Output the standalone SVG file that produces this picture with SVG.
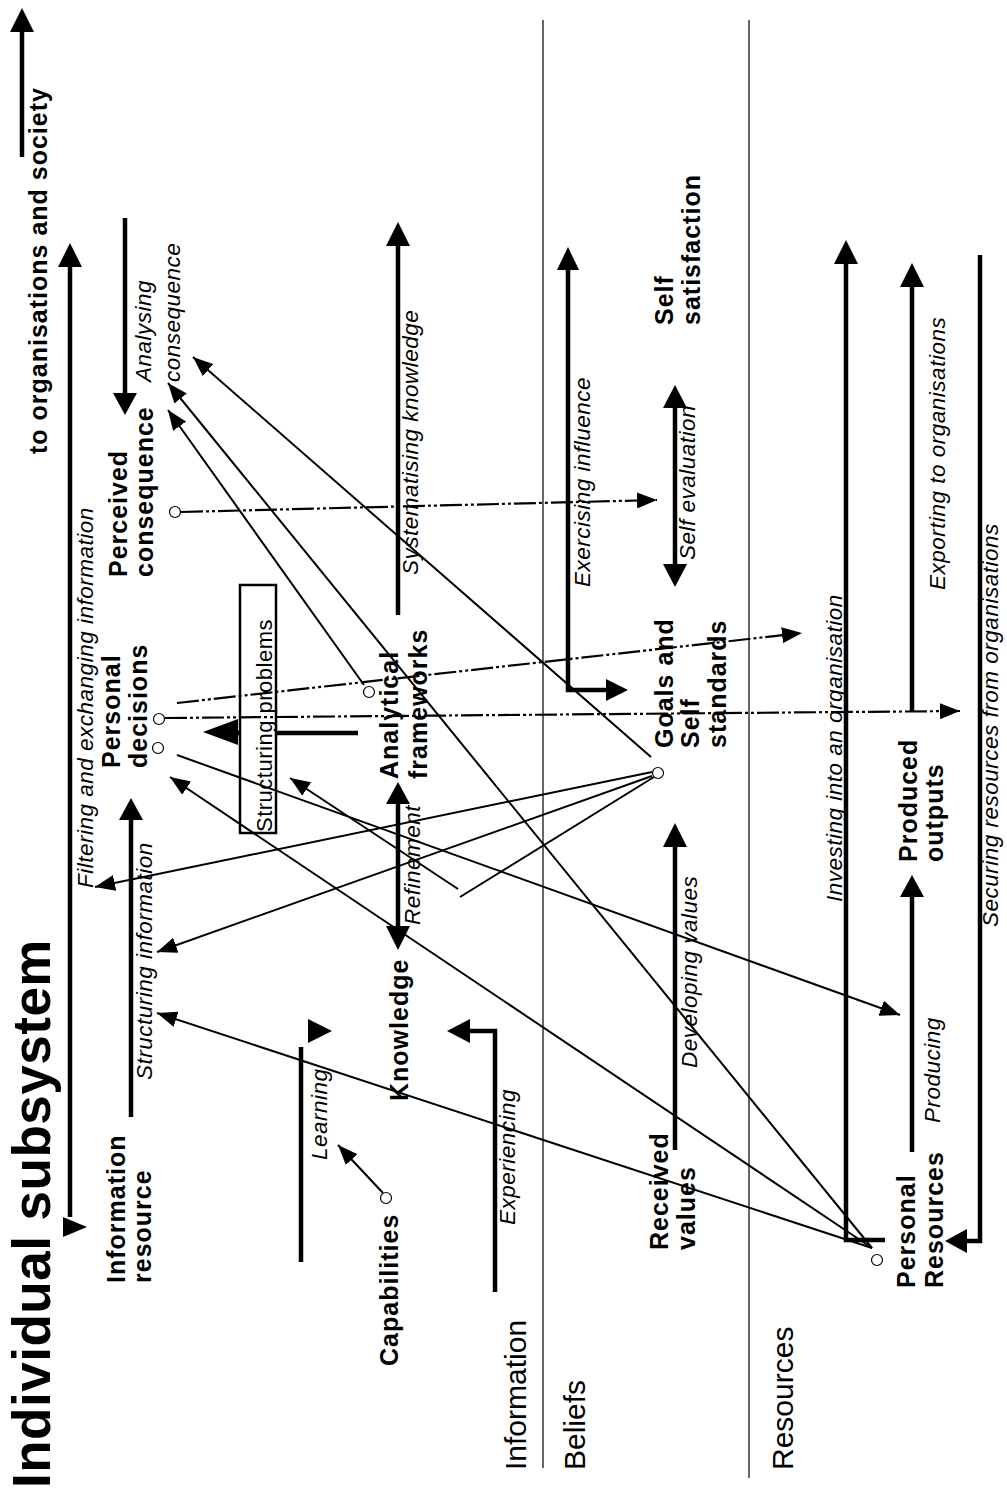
<svg xmlns="http://www.w3.org/2000/svg" width="1007" height="1497" viewBox="0 0 1007 1497">
<style>
.bg{fill:#fff}
.div{stroke:#000;stroke-width:1.2;fill:none}
.thick{stroke:#000;stroke-width:4.5;fill:none}
.ah{fill:#000;stroke:none}
.thin{stroke:#000;stroke-width:2;fill:none}
.dd{stroke:#000;stroke-width:2.2;fill:none;stroke-dasharray:22 3 3 3 3 3}
.arr{marker-end:url(#tip)}
.node{fill:#fff;stroke:#000;stroke-width:1.2}
.box{fill:none;stroke:#000;stroke-width:2.5}
text{fill:#000;font-family:"Liberation Sans",Arial,Helvetica,sans-serif}
.b{font-size:25px;font-weight:bold;letter-spacing:1px}
.i{font-size:22.5px;font-style:italic;letter-spacing:0.5px}
.r{font-size:22px;letter-spacing:0.5px}
.reg{font-size:30px}
.title{font-size:53px;font-weight:bold;letter-spacing:0.5px}
</style>
<defs>
<marker id="tip" viewBox="0 0 20 16" refX="20" refY="8" markerWidth="20" markerHeight="16" markerUnits="userSpaceOnUse" orient="auto">
<path d="M0,0 L20,8 L0,16 z" fill="#000"/>
</marker>
</defs>
<rect class="bg" x="0" y="0" width="1007" height="1497"/>

<g id="dividers">
<line class="div" x1="543" y1="20" x2="543" y2="1468"/>
<line class="div" x1="749" y1="20" x2="749" y2="1478"/>
</g>

<g id="titles">
<text class="title" x="50" y="1488" transform="rotate(-90 50 1488)">Individual subsystem</text>
<text class="b" x="47" y="454" transform="rotate(-90 47 454)">to organisations and society</text>
<text class="reg" x="526" y="1470" transform="rotate(-90 526 1470)">Information</text>
<text class="reg" x="585" y="1470" transform="rotate(-90 585 1470)">Beliefs</text>
<text class="reg" x="793" y="1470" transform="rotate(-90 793 1470)">Resources</text>
</g>

<g id="connectors">
<line class="thick" x1="22" y1="157" x2="22" y2="30"/>
<polygon class="ah" points="22,8 10,32 34,32"/>
<line class="thick" x1="70" y1="1217" x2="70" y2="265"/>
<polygon class="ah" points="70,243 58,267 82,267"/>
<polygon class="ah" points="63,1217 63,1237 87,1227"/>
<line class="thick" x1="131" y1="1117" x2="131" y2="818"/>
<polygon class="ah" points="131,798 119,820 143,820"/>
<line class="thick" x1="125" y1="218" x2="125" y2="395"/>
<polygon class="ah" points="125,415 113,393 137,393"/>
<line class="thick" x1="276" y1="733" x2="358" y2="733"/>
<line class="thick" x1="236" y1="733" x2="241" y2="733"/>
<polygon class="ah" points="203,732 238,719 238,745"/>
<line class="thick" x1="398" y1="615" x2="398" y2="244"/>
<polygon class="ah" points="398,222 386,246 410,246"/>
<line class="thick" x1="398" y1="802" x2="398" y2="928"/>
<polygon class="ah" points="398,782 386,804 410,804"/>
<polygon class="ah" points="398,950 386,926 410,926"/>
<path class="thick" d="M568,268 V690 H608"/>
<polygon class="ah" points="568,247 557,270 579,270"/>
<polygon class="ah" points="628,690 606,679 606,701"/>
<line class="thick" x1="675" y1="406" x2="675" y2="566"/>
<polygon class="ah" points="675,385 663,408 687,408"/>
<polygon class="ah" points="675,587 663,564 687,564"/>
<line class="thick" x1="675" y1="1150" x2="675" y2="845"/>
<polygon class="ah" points="675,823 663,847 687,847"/>
<path class="thick" d="M885,1240 H846 V262"/>
<polygon class="ah" points="846,240 834,264 858,264"/>
<line class="thick" x1="912" y1="1152" x2="912" y2="895"/>
<polygon class="ah" points="912,875 900,897 924,897"/>
<line class="thick" x1="912" y1="712" x2="912" y2="285"/>
<polygon class="ah" points="912,263 900,287 924,287"/>
<path class="thick" d="M980,255 V1241 H965"/>
<polygon class="ah" points="945,1241 967,1229 967,1253"/>
<line class="thick" x1="301" y1="1262" x2="301" y2="1047"/>
<polygon class="ah" points="308,1019 308,1043 332,1031"/>
<path class="thick" d="M495,1292 V1031 H468"/>
<polygon class="ah" points="447,1031 470,1019 470,1043"/>
<line class="dd arr" x1="181" y1="512" x2="657" y2="500"/>
<line class="dd arr" x1="177" y1="703" x2="802" y2="633"/>
<line class="dd arr" x1="165" y1="718" x2="960" y2="711"/>
<line class="thin arr" x1="177" y1="755" x2="900" y2="1015"/>
<line class="thin arr" x1="872" y1="1248" x2="170" y2="777"/>
<line class="thin arr" x1="872" y1="1248" x2="168" y2="383"/>
<line class="thin arr" x1="872" y1="1248" x2="157" y2="1013"/>
<line class="thin arr" x1="364" y1="685" x2="168" y2="410"/>
<line class="thin arr" x1="651" y1="757" x2="193" y2="357"/>
<line class="thin arr" x1="652" y1="772" x2="95" y2="887"/>
<line class="thin arr" x1="652" y1="776" x2="157" y2="952"/>
<line class="thin" x1="654" y1="777" x2="460" y2="897"/>
<line class="thin arr" x1="458" y1="889" x2="290" y2="778"/>
<line class="thin arr" x1="383" y1="1193" x2="338" y2="1145"/>
</g>

<g id="labels">
<text class="i" x="93" y="888" transform="rotate(-90 93 888)">Filtering and exchanging information</text>
<text class="i" x="152" y="1080" transform="rotate(-90 152 1080)">Structuring information</text>
<text class="i" x="151" y="382" transform="rotate(-90 151 382)">Analysing</text>
<text class="i" x="180" y="382" transform="rotate(-90 180 382)">consequence</text>
<text class="i" x="418" y="575" transform="rotate(-90 418 575)">Systematising knowledge</text>
<text class="i" x="420" y="925" transform="rotate(-90 420 925)">Refinement</text>
<text class="i" x="327" y="1160" transform="rotate(-90 327 1160)">Learning</text>
<text class="i" x="515" y="1225" transform="rotate(-90 515 1225)">Experiencing</text>
<text class="i" x="590" y="587" transform="rotate(-90 590 587)">Exercising influence</text>
<text class="i" x="695" y="560" transform="rotate(-90 695 560)">Self evaluation</text>
<text class="i" x="697" y="1068" transform="rotate(-90 697 1068)">Developing values</text>
<text class="i" x="842" y="902" transform="rotate(-90 842 902)">Investing into an organisation</text>
<text class="i" x="940" y="1123" transform="rotate(-90 940 1123)">Producing</text>
<text class="i" x="945" y="590" transform="rotate(-90 945 590)">Exporting to organisations</text>
<text class="i" x="998" y="927" transform="rotate(-90 998 927)">Securing resources from organisations</text>
</g>

<g id="structuring-problems">
<rect class="box" x="240" y="585" width="36" height="248"/>
<text class="r" x="272" y="832" transform="rotate(-90 272 832)">Structuring problems</text>
</g>

<g id="information-resource">
<text class="b" x="125" y="1283" transform="rotate(-90 125 1283)">Information</text>
<text class="b" x="151" y="1283" transform="rotate(-90 151 1283)">resource</text>
</g>
<g id="capabilities">
<text class="b" x="398" y="1366" transform="rotate(-90 398 1366)">Capabilities</text>
<circle class="node" cx="386" cy="1198" r="5.5"/>
</g>
<g id="knowledge">
<text class="b" x="408" y="1101" transform="rotate(-90 408 1101)">Knowledge</text>
</g>
<g id="analytical-frameworks">
<text class="b" x="398" y="779" transform="rotate(-90 398 779)">Analytical</text>
<text class="b" x="427" y="779" transform="rotate(-90 427 779)">frameworks</text>
<circle class="node" cx="369" cy="692" r="5.5"/>
</g>
<g id="personal-decisions">
<text class="b" x="120" y="768" transform="rotate(-90 120 768)">Personal</text>
<text class="b" x="147" y="768" transform="rotate(-90 147 768)">decisions</text>
<circle class="node" cx="159" cy="719" r="5.5"/>
<circle class="node" cx="158" cy="748" r="5.5"/>
</g>
<g id="perceived-consequence">
<text class="b" x="127" y="577" transform="rotate(-90 127 577)">Perceived</text>
<text class="b" x="153" y="577" transform="rotate(-90 153 577)">consequence</text>
<circle class="node" cx="175" cy="512" r="5.5"/>
</g>
<g id="goals-and-self-standards">
<text class="b" x="673" y="748" transform="rotate(-90 673 748)">Goals and</text>
<text class="b" x="699" y="748" transform="rotate(-90 699 748)">Self</text>
<text class="b" x="726" y="748" transform="rotate(-90 726 748)">standards</text>
<circle class="node" cx="658" cy="773" r="5.5"/>
</g>
<g id="self-satisfaction">
<text class="b" x="673" y="325" transform="rotate(-90 673 325)">Self</text>
<text class="b" x="700" y="325" transform="rotate(-90 700 325)">satisfaction</text>
</g>
<g id="received-values">
<text class="b" x="668" y="1250" transform="rotate(-90 668 1250)">Received</text>
<text class="b" x="695" y="1250" transform="rotate(-90 695 1250)">values</text>
</g>
<g id="produced-outputs">
<text class="b" x="917" y="862" transform="rotate(-90 917 862)">Produced</text>
<text class="b" x="943" y="862" transform="rotate(-90 943 862)">outputs</text>
</g>
<g id="personal-resources">
<text class="b" x="915" y="1288" transform="rotate(-90 915 1288)">Personal</text>
<text class="b" x="943" y="1288" transform="rotate(-90 943 1288)">Resources</text>
<circle class="node" cx="877" cy="1260" r="5.5"/>
</g>
</svg>
